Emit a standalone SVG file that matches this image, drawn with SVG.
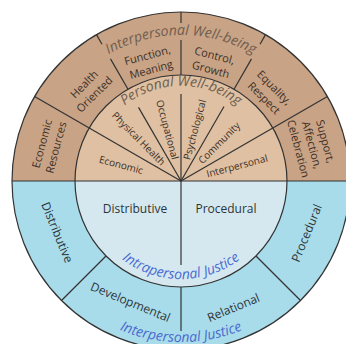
<svg xmlns="http://www.w3.org/2000/svg" width="346" height="344" viewBox="0 0 346 344">
<style>
text{font-family:"Open Sans","Noto Sans","DejaVu Sans",sans-serif;text-anchor:middle}
.ln{stroke:#333;stroke-width:1.2;fill:none}
.in{font-size:10px;fill:#3a2f27}
.out{font-size:11px;fill:#3a2f27}
.bl{font-size:12px;fill:#2c3438}
.arcb{font-style:italic;font-size:14px;fill:#6e5e50}
.arcj{font-style:italic;font-size:14px;fill:#4a6bd0}
</style>
<defs>
<path id="pPW" d="M100.5,134.5 A91,91 0 0 1 261.5,134.5"/>
<path id="pIW" d="M54.6,108 A146,146 0 0 1 307.4,108"/>
<path id="pIJ" d="M96.1,230 A98,98 0 0 0 265.9,230"/>
<path id="pEJ" d="M29.7,236.1 A161,161 0 0 0 332.3,236.1"/>
</defs>
<rect width="346" height="344" fill="#fff"/>
<g id="rings">
<path d="M12,181 A169,169 0 0 1 350,181 Z" fill="#c9a385"/>
<path d="M12,181 A169,169 0 0 0 350,181 Z" fill="#a9dcea"/>
<path d="M75,181 A106,106 0 0 1 287,181 Z" fill="#dfc0a2"/>
<path d="M75,181 A106,106 0 0 0 287,181 Z" fill="#d5e8f0"/>
<circle cx="181" cy="181" r="169" class="ln" stroke-width="1"/>
<circle cx="181" cy="181" r="106" class="ln"/>
</g>
<g id="connectors" class="ln">
<line x1="12" y1="181" x2="350" y2="181"/>
<line x1="181" y1="181" x2="89.2" y2="128"/>
<line x1="181" y1="181" x2="138.5" y2="107.4"/>
<line x1="181" y1="181" x2="181" y2="94"/>
<line x1="181" y1="181" x2="224" y2="106.5"/>
<line x1="181" y1="181" x2="272.8" y2="128"/>
<line x1="181" y1="181" x2="181" y2="265"/>
<line x1="89.2" y1="128" x2="34.6" y2="96.5"/>
<line x1="128" y1="89.2" x2="110.5" y2="58.9"/>
<line x1="102" y1="44.2" x2="96.5" y2="34.6"/>
<line x1="181" y1="75" x2="181" y2="40"/>
<line x1="181" y1="23" x2="181" y2="12"/>
<line x1="234" y1="89.2" x2="251.5" y2="58.9"/>
<line x1="260" y1="44.2" x2="265.5" y2="34.6"/>
<line x1="272.8" y1="128" x2="327.4" y2="96.5"/>
<line x1="106" y1="256" x2="61.5" y2="300.5"/>
<line x1="181" y1="287" x2="181" y2="331"/>
<line x1="256" y1="256" x2="300.5" y2="300.5"/>
</g>
<g id="personal-wellbeing">
<text class="arcb" font-size="13.5"><textPath href="#pPW" startOffset="50%">Personal Well-being</textPath></text>
<g id="n-economic" transform="translate(121.1,165) rotate(15)"><text class="in" y="3.5">Economic</text></g>
<g id="n-physical" transform="translate(138.6,138.6) rotate(45)"><text class="in" y="3.5">Physical Health</text></g>
<g id="n-occupational" transform="translate(167.3,129.7) rotate(75)"><text class="in" y="3.5">Occupational</text></g>
<g id="n-psychological" transform="translate(194.7,129.7) rotate(-75)"><text class="in" y="3.5">Psychological</text></g>
<g id="n-community" transform="translate(219.2,142.8) rotate(-45)"><text class="in" y="3.5">Community</text></g>
<g id="n-interpersonal" transform="translate(237,166) rotate(-15)"><text class="in" y="3.5">Interpersonal</text></g>
</g>
<g id="interpersonal-wellbeing">
<text class="arcb"><textPath href="#pIW" startOffset="50%">Interpersonal Well-being</textPath></text>
<g id="n-econres" transform="translate(48.7,145.5) rotate(-75)"><text class="out"><tspan x="0" y="-3.1">Economic</tspan><tspan x="0" y="11.4">Resources</tspan></text></g>
<g id="n-health" transform="translate(89.1,89.1) rotate(-45)"><text class="out"><tspan x="0" y="-3.1">Health</tspan><tspan x="0" y="11.4">Oriented</tspan></text></g>
<g id="n-function" transform="translate(149.2,62.2) rotate(-15)"><text class="out"><tspan x="0" y="-3.1">Function,</tspan><tspan x="0" y="11.4">Meaning</tspan></text></g>
<g id="n-control" transform="translate(212.8,62.2) rotate(15)"><text class="out"><tspan x="0" y="-3.1">Control,</tspan><tspan x="0" y="11.4">Growth</tspan></text></g>
<g id="n-equality" transform="translate(269.4,92.6) rotate(45)"><text class="out"><tspan x="0" y="-3.1">Equality,</tspan><tspan x="0" y="11.4">Respect</tspan></text></g>
<g id="n-support" transform="translate(312,145) rotate(75)"><text class="out"><tspan x="0" y="-10">Support,</tspan><tspan x="0" y="4">Affection,</tspan><tspan x="0" y="18">Celebration</tspan></text></g>
</g>
<g id="intrapersonal-justice">
<text class="bl" x="135" y="213">Distributive</text>
<text class="bl" x="226" y="213">Procedural</text>
<text class="arcj"><textPath href="#pIJ" startOffset="50%">Intrapersonal Justice</textPath></text>
</g>
<g id="interpersonal-justice">
<g id="n-distributive" transform="translate(57.2,232.3) rotate(67.5)"><text class="bl" y="4.3">Distributive</text></g>
<g id="n-developmental" transform="translate(130.5,302) rotate(22.5)"><text class="bl" y="4.3">Developmental</text></g>
<g id="n-relational" transform="translate(233.4,307.6) rotate(-22.5)"><text class="bl" y="4.3">Relational</text></g>
<g id="n-procedural" transform="translate(306.6,233) rotate(-67.5)"><text class="bl" y="4.3">Procedural</text></g>
<text class="arcj"><textPath href="#pEJ" startOffset="50%">Interpersonal Justice</textPath></text>
</g>
</svg>
